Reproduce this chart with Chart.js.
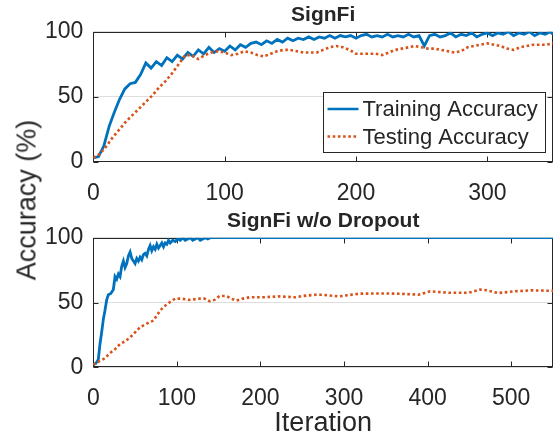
<!DOCTYPE html>
<html>
<head>
<meta charset="utf-8">
<script src="https://cdn.jsdelivr.net/npm/chart.js@4/dist/chart.umd.min.js"></script>
<style>
  body { margin: 0; background: #fff; }
  #wrap { position: relative; width: 555px; height: 437px; font-family: "Liberation Sans", Arial, sans-serif; color: #262626; }
  canvas { position: absolute; left: 0; }
  #ylabel { position: absolute; left: 27px; top: 200px; font-size: 27px; line-height: 1; white-space: nowrap; transform: translate(-50%, -50%) rotate(-90deg); }
</style>
</head>
<body>
<div id="wrap">
  <canvas id="topChart" width="555" height="200" style="top:0"></canvas>
  <canvas id="bottomChart" width="555" height="237" style="top:200px"></canvas>
  <div id="ylabel">Accuracy (%)</div>
</div>
<script>
// ---- data ----
const seriesNames = ['Training Accuracy', 'Testing Accuracy'];
const yTicks = [0, 50, 100];

// SignFi
const topTicks = [0, 100, 200, 300];
const topTrainIter = [0,4,8,12,16,20,24,28,32,36,40,44,48,52,56,60,64,68,72,76,80,84,88,92,96,100,104,108,112,116,120,124,128,132,136,140,144,148,152,156,160,164,168,172,176,180,184,188,192,196,200,204,208,212,216,220,224,228,232,236,240,244,248,252,256,260,264,268,272,276,280,284,288,292,296,300,304,308,312,316,320,324,328,332,336,340,344,348,350];
const topTrainAcc = [3,4,12,27,38,48,56,60,61,67,
  76,72,77,74,80,77,82,79,84,81,
  86,83,88,84,87,85,89,86,90,88,
  91,92,90,93,91,94,92,95,93,95,
  94,96,94,96,95,97,95,97,96,97,
  95,97,98,96,97,96,98,96,97,96,
  98,96,97,89,97,98,96,97,99,96,
  98,97,99,96,98,99,97,99,98,100,
  97,99,98,100,97,99,98,100,98];
const topTestIter = [0,5,10,15,20,25,30,35,40,45,50,55,60,65,70,75,80,85,90,95,100,105,110,115,120,125,130,135,140,145,150,155,160,165,170,175,180,185,190,195,200,205,210,215,220,225,230,235,240,245,250,255,260,265,270,275,280,285,290,295,300,305,310,315,320,325,330,335,340,345,350];
const topTestAcc = [3,6,12,19,25,31,36,41,46,51,
  57,62,68,75,82,82,79,82,84,85,
  84,82,83,85,84,82,81,83,85,86,
  86,85,84,84,84,86,88,89,88,86,
  83,83,83,83,82,84,86,87,88,89,
  88,87,87,86,85,84,85,88,89,90,
  91,90,89,87,86,88,89,90,90,90,91];

// SignFi w/o Dropout
const bottomTicks = [0, 100, 200, 300, 400, 500];
const bottomTrainIter = [0,3,6,8,10,12,14,16,18,21,24,26,28,30,32,34,36,38,40,42,44,46,48,50,52,54,56,58,60,62,64,66,68,70,72,74,76,78,80,82,84,86,88,90,92,95,98,101,104,107,110,113,116,119,122,125,128,131,134,137,140,145,550];
const bottomTrainAcc = [2,3,6,18,27,37,44,52,56,57,
  60,70,68,72,70,78,82,77,80,86,
  89,84,82,80,84,82,85,83,87,88,
  86,91,94,90,93,91,95,92,94,96,
  93,96,95,98,96,98,97,99,98,100,
  98,99,100,98,99,100,98,99,100,99,
  100,100,100];
const bottomTestIter = [0,8,14,20,26,32,38,44,50,56,62,68,72,77,83,91,98,105,115,127,133,139,145,151,159,165,171,179,187,203,222,242,250,266,274,282,294,318,345,365,389,403,425,449,463,471,484,504,524,550];
const bottomTestAcc = [2,5,7,11,14,18,20,23,27,31,
  33,35,36,41,46,50,53,53,52,53,
  53,51,52,55,55,53,51.5,53,54,54,
  54.7,54,55,56,56,55.5,54.7,56.8,57,56.8,
  56,58.6,57.5,57.5,60,59.4,57.3,58.6,59.4,59];

const FONT = '"Liberation Sans", Arial, sans-serif';
const INK = '#262626';
const BLUE = '#0072BD';
const ORANGE = '#D95319';

// box, inward ticks on all sides, and an optional legend
const framePlugin = {
  id: 'frame',
  beforeDatasetsDraw(chart) {
    const { ctx, chartArea: a, scales } = chart;
    const L = Math.round(a.left) + 0.5, R = Math.round(a.right) - 0.5;
    const T = Math.round(a.top) + 0.5, B = Math.round(a.bottom) - 0.5;
    ctx.save();
    ctx.strokeStyle = INK;
    ctx.lineWidth = 1;
    ctx.strokeRect(L, T, R - L, B - T);
    ctx.beginPath();
    scales.x.ticks.forEach(t => {
      const px = Math.round(scales.x.getPixelForValue(t.value)) + 0.5;
      ctx.moveTo(px, B); ctx.lineTo(px, B - 5);
      ctx.moveTo(px, T); ctx.lineTo(px, T + 5);
    });
    scales.y.ticks.forEach(t => {
      const py = Math.round(scales.y.getPixelForValue(t.value)) + 0.5;
      ctx.moveTo(L, py); ctx.lineTo(L + 5, py);
      ctx.moveTo(R, py); ctx.lineTo(R - 5, py);
    });
    ctx.stroke();
    ctx.restore();
  },
  afterDraw(chart, args, opts) {
    if (!opts.legend) return;
    const { ctx, chartArea: a } = chart;
    const w = 222, h = 60;
    const x0 = Math.round(a.right - 8 - w) + 0.5, y0 = Math.round(a.bottom - 10 - h) + 0.5;
    ctx.save();
    ctx.fillStyle = '#fff';
    ctx.fillRect(x0, y0, w, h);
    ctx.strokeStyle = INK;
    ctx.lineWidth = 1;
    ctx.strokeRect(x0, y0, w, h);
    ctx.font = '22px ' + FONT;
    ctx.textBaseline = 'middle';
    chart.data.datasets.forEach((ds, i) => {
      const y = y0 + 16.5 + i * 27.5;
      ctx.strokeStyle = ds.borderColor;
      ctx.lineWidth = 2.5;
      ctx.setLineDash(ds.borderDash || []);
      ctx.beginPath();
      ctx.moveTo(x0 + 4, y); ctx.lineTo(x0 + 35, y);
      ctx.stroke();
      ctx.setLineDash([]);
      ctx.fillStyle = INK;
      ctx.fillText(ds.label, x0 + 39, y + 1);
    });
    ctx.restore();
  }
};

function pts(xs, ys) {
  return xs.map((x, i) => ({ x, y: ys[i] }));
}

function makeChart(id, o) {
  return new Chart(document.getElementById(id), {
    type: 'line',
    data: {
      datasets: [
        { label: seriesNames[0], data: pts(o.trainIter, o.trainAcc), borderColor: BLUE, borderWidth: 2.8, pointRadius: 0, order: 1 },
        { label: seriesNames[1], data: pts(o.testIter, o.testAcc), borderColor: ORANGE, borderWidth: 2.6, borderDash: [2.6, 2.6], pointRadius: 0, order: 0 }
      ]
    },
    options: {
      responsive: false,
      animation: false,
      layout: { padding: { left: 0, right: 2, top: 0, bottom: 0 } },
      plugins: {
        legend: { display: false },
        tooltip: { enabled: false },
        title: {
          display: true, text: o.title, color: INK, fullSize: false,
          font: { family: FONT, size: 21, weight: 'bold', lineHeight: 1.1 },
          padding: { top: o.titleTop, bottom: 5 }
        },
        frame: { legend: o.legend }
      },
      scales: {
        x: {
          type: 'linear', min: 0, max: o.xMax,
          afterBuildTicks: s => { s.ticks = o.xTicks.map(v => ({ value: v })); },
          afterFit: s => { s.height = o.xHeight; },
          grid: { display: false },
          border: { display: false },
          ticks: { color: INK, font: { family: FONT, size: 23 }, padding: 10, maxRotation: 0, autoSkip: false },
          title: { display: !!o.xTitle, text: o.xTitle || '', color: INK, font: { family: FONT, size: 27, lineHeight: 1 }, padding: { top: 0, bottom: 0 } }
        },
        y: {
          min: 0, max: 100,
          afterBuildTicks: s => { s.ticks = yTicks.map(v => ({ value: v })); },
          afterFit: s => { s.width = 93.3; },
          grid: { color: '#dedede', drawTicks: false },
          border: { display: false },
          ticks: { color: INK, font: { family: FONT, size: 23 }, padding: 10 }
        }
      }
    },
    plugins: [framePlugin]
  });
}

makeChart('topChart', {
  title: 'SignFi', titleTop: 3.6, legend: true,
  trainIter: topTrainIter, trainAcc: topTrainAcc,
  testIter: topTestIter, testAcc: topTestAcc,
  xMax: 350, xTicks: topTicks, xHeight: 38.3
});

makeChart('bottomChart', {
  title: 'SignFi w/o Dropout', titleTop: 9.6, legend: false,
  trainIter: bottomTrainIter, trainAcc: bottomTrainAcc,
  testIter: bottomTestIter, testAcc: bottomTestAcc,
  xMax: 550, xTicks: bottomTicks, xHeight: 69.7, xTitle: 'Iteration'
});
</script>
</body>
</html>
